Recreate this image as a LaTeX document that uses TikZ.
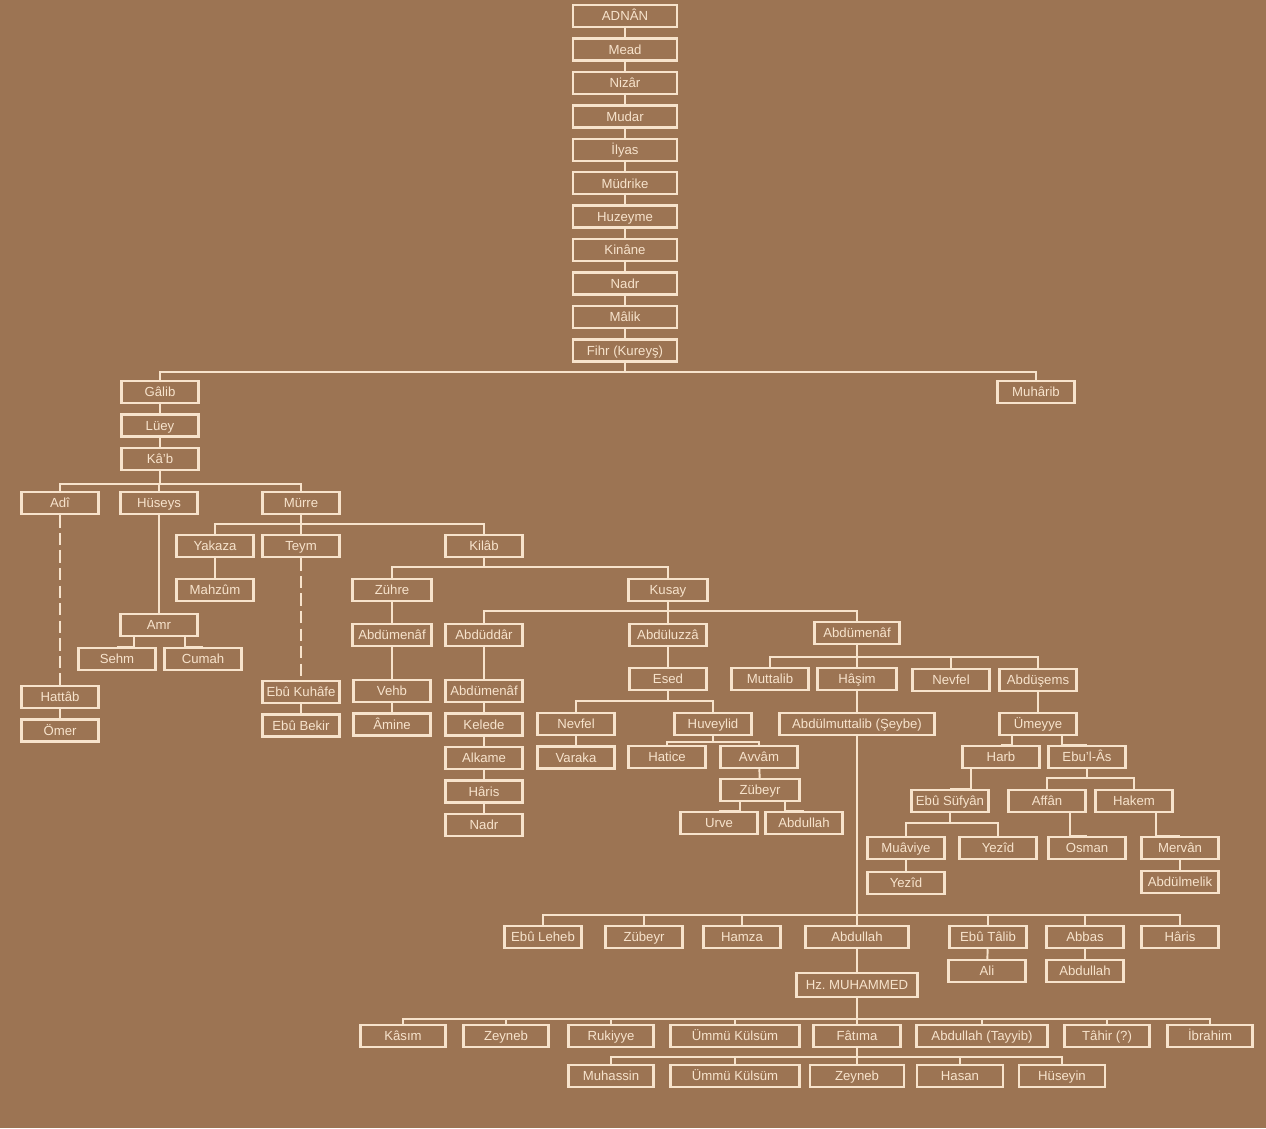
\documentclass[tikz,border=0pt]{standalone}
\usepackage{fontspec}
\setmainfont{Liberation Sans}
\usetikzlibrary{positioning}
\definecolor{treeBrown}{HTML}{9C7453}
\definecolor{treeCream}{HTML}{F7E3CC}
\frenchspacing

\begin{document}
\begin{tikzpicture}[x=0.02cm,y=-0.02cm,node distance=0.18cm,
    person/.style={draw=treeCream,line width=1.4pt,text=treeCream,minimum width=1.54cm,minimum height=0.44cm,inner sep=1pt,text height=6.2pt,text depth=0.8pt,font=\fontsize{7.5}{8}\selectfont},
    link/.style={draw=treeCream,line width=1.1pt}]
    \fill[treeBrown] (0,0) rectangle (1266,1128);
    % Adnan down to Fihr
    \node[person,minimum width=2.08cm] (adnan) at (625,16) {ADNÂN};
    \node[person,minimum width=2.08cm,below=of adnan] (mead) {Mead};
    \node[person,minimum width=2.08cm,below=of mead] (nizar) {Nizâr};
    \node[person,minimum width=2.08cm,below=of nizar] (mudar) {Mudar};
    \node[person,minimum width=2.08cm,below=of mudar] (ilyas) {İlyas};
    \node[person,minimum width=2.08cm,below=of ilyas] (mudrike) {Müdrike};
    \node[person,minimum width=2.08cm,below=of mudrike] (huzeyme) {Huzeyme};
    \node[person,minimum width=2.08cm,below=of huzeyme] (kinane) {Kinâne};
    \node[person,minimum width=2.08cm,below=of kinane] (nadr) {Nadr};
    \node[person,minimum width=2.08cm,below=of nadr] (malik) {Mâlik};
    \node[person,minimum width=2.08cm,below=of malik] (fihr) {Fihr (Kureyş)};
    \node[person] (galib) at (160,392) {Gâlib};
    \node[person] (muharib) at (1036,392) {Muhârib};
    \node[person,below=of galib] (lueyy) {Lüey};
    \node[person,below=of lueyy] (kab) {Kâ'b};
    % children of Ka'b
    \node[person] (adi) at (60,503) {Adî};
    \node[person] (huseys) at (159,503) {Hüseys};
    \node[person] (murre) at (301,503) {Mürre};
    \node[person] (hattab) at (60,697) {Hattâb};
    \node[person,below=of hattab] (omer) {Ömer};
    \node[person] (amr) at (159,625) {Amr};
    \node[person] (sehm) at (117,659) {Sehm};
    \node[person] (cumah) at (203,659) {Cumah};
    \node[person] (yakaza) at (215,546) {Yakaza};
    \node[person] (teym) at (301,546) {Teym};
    \node[person] (kilab) at (484,546) {Kilâb};
    \node[person] (mahzum) at (215,590) {Mahzûm};
    \node[person] (ebukuhafe) at (301,692) {Ebû Kuhâfe};
    \node[person,below=of ebukuhafe] (ebubekir) {Ebû Bekir};
    % Zühre and Kusay
    \node[person,minimum width=1.58cm] (zuhre) at (392,590) {Zühre};
    \node[person,minimum width=1.58cm] (kusay) at (668,590) {Kusay};
    \node[person,minimum width=1.58cm] (zabdmenaf) at (392,635) {Abdümenâf};
    \node[person] (vehb) at (392,691) {Vehb};
    \node[person,below=of vehb] (amine) {Âmine};
    \node[person] (abdaddar) at (484,635) {Abdüddâr};
    \node[person] (abduzza) at (668,635) {Abdüluzzâ};
    \node[person,minimum width=1.7cm] (abdmenaf) at (857,633) {Abdümenâf};
    \node[person] (dabdmenaf) at (484,691) {Abdümenâf};
    \node[person,below=of dabdmenaf] (kelede) {Kelede};
    \node[person,below=of kelede] (alkame) {Alkame};
    \node[person,below=of alkame] (haris) {Hâris};
    \node[person,below=of haris] (nadrb) {Nadr};
    \node[person] (esed) at (668,679) {Esed};
    \node[person] (nevfel) at (576,724) {Nevfel};
    \node[person] (huveylid) at (713,724) {Huveylid};
    \node[person,below=of nevfel] (varaka) {Varaka};
    \node[person] (hatice) at (667,757) {Hatice};
    \node[person] (avvam) at (759,757) {Avvâm};
    \node[person,minimum width=1.58cm] (zubeyr) at (760,790) {Zübeyr};
    \node[person] (urve) at (719,823) {Urve};
    \node[person] (abdullahz) at (804,823) {Abdullah};
    % children of Abdümenaf
    \node[person] (muttalib) at (770,679) {Muttalib};
    \node[person,minimum width=1.58cm] (hasim) at (857,679) {Hâşim};
    \node[person] (nevfelb) at (951,680) {Nevfel};
    \node[person] (abdusems) at (1038,680) {Abdüşems};
    \node[person,minimum width=3.1cm] (abdulmuttalib) at (857,724) {Abdülmuttalib (Şeybe)};
    \node[person] (umeyye) at (1038,724) {Ümeyye};
    \node[person] (harb) at (1001,757) {Harb};
    \node[person] (ebulas) at (1087,757) {Ebu'l-Âs};
    \node[person] (ebusufyan) at (950,801) {Ebû Süfyân};
    \node[person] (affan) at (1047,801) {Affân};
    \node[person] (hakem) at (1134,801) {Hakem};
    \node[person] (muaviye) at (906,848) {Muâviye};
    \node[person] (yezid) at (998,848) {Yezîd};
    \node[person] (yezidb) at (906,883) {Yezîd};
    \node[person] (osman) at (1087,848) {Osman};
    \node[person] (mervan) at (1180,848) {Mervân};
    \node[person] (abdulmelik) at (1180,882) {Abdülmelik};
    % children of Abdülmuttalib
    \node[person] (ebuleheb) at (543,937) {Ebû Leheb};
    \node[person] (zubeyrb) at (644,937) {Zübeyr};
    \node[person] (hamza) at (742,937) {Hamza};
    \node[person,minimum width=2.06cm] (abdullah) at (857,937) {Abdullah};
    \node[person] (ebutalib) at (988,937) {Ebû Tâlib};
    \node[person] (abbas) at (1085,937) {Abbas};
    \node[person] (harisb) at (1180,937) {Hâris};
    \node[person] (ali) at (987,971) {Ali};
    \node[person] (abdullaha) at (1085,971) {Abdullah};
    \node[person,minimum width=2.42cm,minimum height=0.48cm] (muhammed) at (857,985) {Hz. MUHAMMED};
    % children of Hz. Muhammed
    \node[person,minimum width=1.7cm] (kasim) at (403,1036) {Kâsım};
    \node[person,minimum width=1.7cm] (zeyneb) at (506,1036) {Zeyneb};
    \node[person,minimum width=1.7cm] (rukiyye) at (611,1036) {Rukiyye};
    \node[person,minimum width=2.58cm] (ummukulsum) at (735,1036) {Ümmü Külsüm};
    \node[person,minimum width=1.74cm] (fatima) at (857,1036) {Fâtıma};
    \node[person,minimum width=2.62cm] (abdullaht) at (982,1036) {Abdullah (Tayyib)};
    \node[person,minimum width=1.7cm] (tahir) at (1107,1036) {Tâhir (?)};
    \node[person,minimum width=1.7cm] (ibrahim) at (1210,1036) {İbrahim};
    \node[person,minimum width=1.7cm] (muhassin) at (611,1076) {Muhassin};
    \node[person,minimum width=2.58cm] (ummukulsumb) at (735,1076) {Ümmü Külsüm};
    \node[person,minimum width=1.88cm] (zeynebb) at (857,1076) {Zeyneb};
    \node[person,minimum width=1.72cm] (hasan) at (960,1076) {Hasan};
    \node[person,minimum width=1.72cm] (huseyin) at (1062,1076) {Hüseyin};

    \draw[link] (adnan) -- (mead) -- (nizar) -- (mudar) -- (ilyas) -- (mudrike) -- (huzeyme) -- (kinane) -- (nadr) -- (malik) -- (fihr);
    \draw[link] (fihr.south) -- ++(0,9) -| (galib.north);
    \draw[link] (fihr.south) -- ++(0,9) -| (muharib.north);
    \draw[link] (galib) -- (lueyy) -- (kab);
    \draw[link] (kab.south) -- ++(0,13) -| (adi.north);
    \draw[link] (kab.south) -- ++(0,13) -| (huseys.north);
    \draw[link] (kab.south) -- ++(0,13) -| (murre.north);
    \draw[link,dashed,dash pattern=on 7pt off 3pt] (adi) -- (hattab);
    \draw[link] (hattab) -- (omer);
    \draw[link] (huseys) -- (amr);
    \draw[link] (amr.south) ++(-25,0) |- (sehm.north);
    \draw[link] (amr.south) ++(26,0) |- (cumah.north);
    \draw[link] (murre.south) -- ++(0,9) -| (yakaza.north);
    \draw[link] (murre.south) -- ++(0,9) -| (teym.north);
    \draw[link] (murre.south) -- ++(0,9) -| (kilab.north);
    \draw[link] (yakaza) -- (mahzum);
    \draw[link,dashed,dash pattern=on 7pt off 3pt] (teym) -- (ebukuhafe);
    \draw[link] (ebukuhafe) -- (ebubekir);
    \draw[link] (kilab.south) -- ++(0,9) -| (zuhre.north);
    \draw[link] (kilab.south) -- ++(0,9) -| (kusay.north);
    \draw[link] (zuhre) -- (zabdmenaf) -- (vehb) -- (amine);
    \draw[link] (kusay.south) -- ++(0,9) -| (abdaddar.north);
    \draw[link] (kusay.south) -- ++(0,9) -| (abduzza.north);
    \draw[link] (kusay.south) -- ++(0,9) -| (abdmenaf.north);
    \draw[link] (abdaddar) -- (dabdmenaf) -- (kelede) -- (alkame) -- (haris) -- (nadrb);
    \draw[link] (abduzza) -- (esed);
    \draw[link] (esed.south) -- ++(0,10) -| (nevfel.north);
    \draw[link] (esed.south) -- ++(0,10) -| (huveylid.north);
    \draw[link] (nevfel) -- (varaka);
    \draw[link] (huveylid.south) -- ++(0,6) -| (hatice.north);
    \draw[link] (huveylid.south) -- ++(0,6) -| (avvam.north);
    \draw[link] (avvam) -- (zubeyr);
    \draw[link] (zubeyr.south) ++(-20,0) |- (urve.north);
    \draw[link] (zubeyr.south) ++(25,0) |- (abdullahz.north);
    \draw[link] (abdmenaf.south) -- ++(0,12) -| (muttalib.north);
    \draw[link] (abdmenaf.south) -- ++(0,12) -| (hasim.north);
    \draw[link] (abdmenaf.south) -- ++(0,12) -| (nevfelb.north);
    \draw[link] (abdmenaf.south) -- ++(0,12) -| (abdusems.north);
    \draw[link] (hasim) -- (abdulmuttalib);
    \draw[link] (abdusems) -- (umeyye);
    \draw[link] (umeyye.south) ++(-26,0) |- (harb.north);
    \draw[link] (umeyye.south) ++(24,0) |- (ebulas.north);
    \draw[link] (harb.south) ++(-30,0) |- (ebusufyan.north);
    \draw[link] (ebusufyan.south) -- ++(0,10) -| (muaviye.north);
    \draw[link] (ebusufyan.south) -- ++(0,10) -| (yezid.north);
    \draw[link] (muaviye) -- (yezidb);
    \draw[link] (ebulas.south) -- ++(0,9) -| (affan.north);
    \draw[link] (ebulas.south) -- ++(0,9) -| (hakem.north);
    \draw[link] (affan.south) ++(23,0) |- (osman.north);
    \draw[link] (hakem.south) ++(22,0) |- (mervan.north);
    \draw[link] (mervan) -- (abdulmelik);
    \draw[link] (abdulmuttalib.south) -- ++(0,179) -| (ebuleheb.north);
    \draw[link] (abdulmuttalib.south) -- ++(0,179) -| (zubeyrb.north);
    \draw[link] (abdulmuttalib.south) -- ++(0,179) -| (hamza.north);
    \draw[link] (abdulmuttalib.south) -- ++(0,179) -| (abdullah.north);
    \draw[link] (abdulmuttalib.south) -- ++(0,179) -| (ebutalib.north);
    \draw[link] (abdulmuttalib.south) -- ++(0,179) -| (abbas.north);
    \draw[link] (abdulmuttalib.south) -- ++(0,179) -| (harisb.north);
    \draw[link] (ebutalib) -- (ali);
    \draw[link] (abbas) -- (abdullaha);
    \draw[link] (abdullah) -- (muhammed);
    \draw[link] (muhammed.south) -- ++(0,21) -| (kasim.north);
    \draw[link] (muhammed.south) -- ++(0,21) -| (zeyneb.north);
    \draw[link] (muhammed.south) -- ++(0,21) -| (rukiyye.north);
    \draw[link] (muhammed.south) -- ++(0,21) -| (ummukulsum.north);
    \draw[link] (muhammed.south) -- ++(0,21) -| (fatima.north);
    \draw[link] (muhammed.south) -- ++(0,21) -| (abdullaht.north);
    \draw[link] (muhammed.south) -- ++(0,21) -| (tahir.north);
    \draw[link] (muhammed.south) -- ++(0,21) -| (ibrahim.north);
    \draw[link] (fatima.south) -- ++(0,9) -| (muhassin.north);
    \draw[link] (fatima.south) -- ++(0,9) -| (ummukulsumb.north);
    \draw[link] (fatima.south) -- ++(0,9) -| (zeynebb.north);
    \draw[link] (fatima.south) -- ++(0,9) -| (hasan.north);
    \draw[link] (fatima.south) -- ++(0,9) -| (huseyin.north);
  \end{tikzpicture}
\end{document}
